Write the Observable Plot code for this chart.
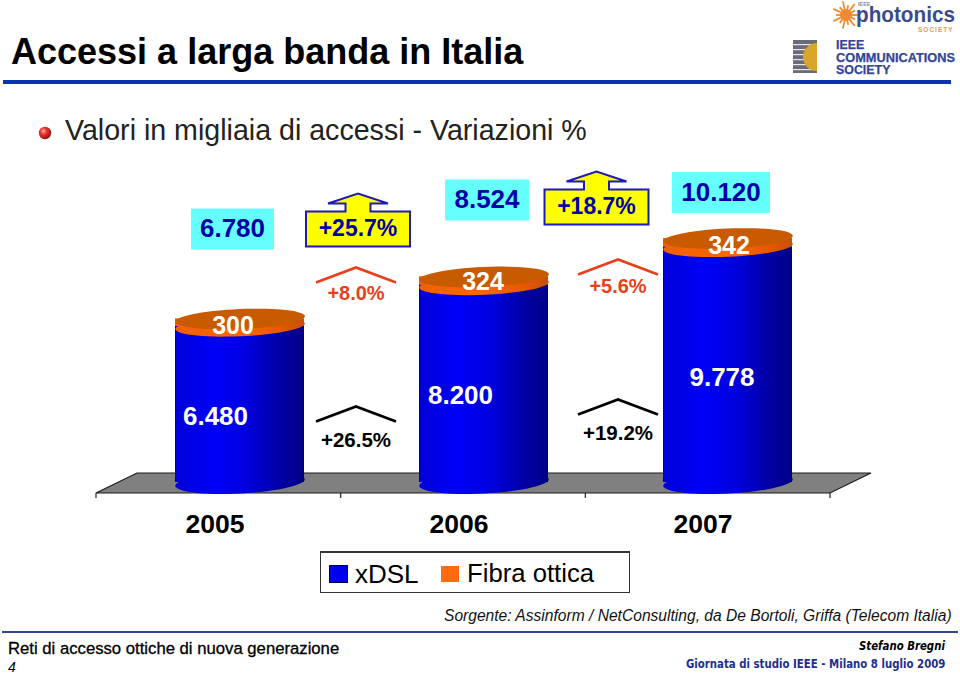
<!DOCTYPE html>
<html><head><meta charset="utf-8">
<script src="https://cdn.jsdelivr.net/npm/d3@7"></script>
<script src="https://cdn.jsdelivr.net/npm/@observablehq/plot@0.6"></script>
<style>
html,body{margin:0;padding:0;background:#fff;}
#page{position:relative;width:960px;height:674px;overflow:hidden;font-family:"Liberation Sans",Arial,sans-serif;color:#000;}
#page .t{position:absolute;white-space:nowrap;line-height:1;}
#chart{position:absolute;left:0;top:160px;}
</style></head><body>
<div id="page">
<div class="t" style="left:11px;top:34px;font-size:36px;font-weight:bold;">Accessi a larga banda in Italia</div>
<div style="position:absolute;left:3px;top:80px;width:948px;height:4px;background:#0a33b0;"></div>
<svg style="position:absolute;left:38px;top:126px" width="14" height="14"><defs><radialGradient id="ball" cx=".38" cy=".35" r=".7"><stop offset="0" stop-color="#ffb0a0"/><stop offset=".4" stop-color="#e8302a"/><stop offset="1" stop-color="#8a0a0a"/></radialGradient></defs><circle cx="7" cy="7" r="6.2" fill="url(#ball)"/></svg>
<div class="t" style="left:65px;top:116px;font-size:28.6px;color:#222;">Valori in migliaia di accessi - Variazioni %</div>

<svg style="position:absolute;left:780px;top:0" width="180" height="80">
  <g id="sun" transform="translate(66,15)"></g>
  <text x="76" y="22" font-family="Liberation Sans" font-weight="bold" font-size="22" fill="#3b4a8f" textLength="99" lengthAdjust="spacingAndGlyphs">photonics</text>
  <text x="138" y="32" font-family="Liberation Sans" font-weight="bold" font-size="6.5" letter-spacing="1" fill="#d89a60">SOCIETY</text>
  <text x="78" y="6" font-family="Liberation Sans" font-weight="bold" font-size="5.5" fill="#8a8a90">IEEE</text>
  <rect x="13" y="40" width="24" height="33" fill="#6a6a78"/>
  <g fill="#e8e8e8"><rect x="13" y="44" width="24" height="1.2"/><rect x="13" y="49" width="24" height="1.2"/><rect x="13" y="54" width="24" height="1.2"/><rect x="13" y="59" width="24" height="1.2"/><rect x="13" y="64" width="24" height="1.2"/><rect x="13" y="69" width="24" height="1.2"/></g>
  <path d="M37,43 A14,14 0 0 0 37,71 Z" fill="#d9a52a"/>
  <g font-family="Liberation Sans" font-weight="bold" fill="#33449a" font-size="12.4" stroke="#33449a" stroke-width=".25">
    <text x="56" y="49">IEEE</text>
    <text x="56" y="61.5" textLength="119" lengthAdjust="spacingAndGlyphs">COMMUNICATIONS</text>
    <text x="56" y="74">SOCIETY</text>
  </g>
</svg>

<div id="chart"></div>

<div style="position:absolute;left:320px;top:551px;width:308px;height:39px;border:1px solid #333;border-top-width:2px;"></div>
<div style="position:absolute;left:329px;top:565px;width:17px;height:16px;background:#0000f0;border:1px solid #000040;"></div>
<div class="t" style="left:355px;top:561px;font-size:26px;">xDSL</div>
<div style="position:absolute;left:441px;top:566px;width:18px;height:16px;background:#ff6a10;"></div>
<div class="t" style="left:467px;top:561px;font-size:25.7px;">Fibra ottica</div>

<div class="t" style="left:444px;top:608px;font-size:15.6px;font-style:italic;color:#111;">Sorgente: Assinform / NetConsulting, da De Bortoli, Griffa (Telecom Italia)</div>
<div style="position:absolute;left:2px;top:631px;width:956px;height:2px;background:#2b4a8c;"></div>
<div class="t" style="left:8px;top:641px;font-size:16.7px;-webkit-text-stroke:.3px #000;">Reti di accesso ottiche di nuova generazione</div>
<div class="t" style="left:8px;top:660px;font-size:14px;font-style:italic;">4</div>
<div class="t" style="right:15px;top:640px;font-size:12.5px;font-weight:bold;font-style:italic;font-family:'DejaVu Sans Condensed','DejaVu Sans';transform:scaleX(.905);transform-origin:right;">Stefano Bregni</div>
<div class="t" style="right:15px;top:658px;font-size:12.5px;font-weight:bold;color:#1e2f8f;font-family:'DejaVu Sans Condensed','DejaVu Sans';transform:scaleX(.906);transform-origin:right;">Giornata di studio IEEE - Milano 8 luglio 2009</div>
</div>

<script>
// ---- data ----
const years = ["2005", "2006", "2007"];
const xdsl = [6480, 8200, 9778];
const fibra = [300, 324, 342];
const totals = [6780, 8524, 10120];
const totalChange = ["+25.7%", "+18.7%"];
const fibraChange = ["+8.0%", "+5.6%"];
const xdslChange = ["+26.5%", "+19.2%"];
const seriesNames = ["xDSL", "Fibra ottica"];

const stacked = [
  ...years.map((year, i) => ({year, series: seriesNames[0], value: xdsl[i]})),
  ...years.map((year, i) => ({year, series: seriesNames[1], value: fibra[i]}))
];
const tops = years.map((year, i) => ({year, xdsl: xdsl[i], total: totals[i]}));

// ---- helpers ----
const fmt = d3.formatLocale({thousands: ".", grouping: [3], decimal: ",", currency: ["", ""]}).format(",");
const font = "Liberation Sans";
const ellipse = (rx, ry, tilt) => ({draw(c) {
  const a = tilt * Math.PI / 180, n = 60;
  for (let k = 0; k <= n; ++k) {
    const t = k / n * 2 * Math.PI, px = rx * Math.cos(t), py = ry * Math.sin(t);
    const X = px * Math.cos(a) - py * Math.sin(a), Y = px * Math.sin(a) + py * Math.cos(a);
    k ? c.lineTo(X, Y) : c.moveTo(X, Y);
  }
  c.closePath();
}});
const box = (w, h) => ({draw(c) {
  c.moveTo(-w / 2, -h / 2); c.lineTo(w / 2, -h / 2); c.lineTo(w / 2, h / 2); c.lineTo(-w / 2, h / 2); c.closePath();
}});
const chevron = {draw(c) { c.moveTo(-40, 15); c.lineTo(0, 0); c.lineTo(40, 15); }};
const upBox = {draw(c) {
  [[-52,17.5],[-52,-17.5],[-12.5,-17.5],[-12.5,-25.5],[-30,-25.5],[0,-35.5],[30,-25.5],[12.5,-25.5],[12.5,-17.5],[52,-17.5],[52,17.5]]
    .forEach(([x, y], k) => k ? c.lineTo(x, y) : c.moveTo(x, y));
  c.closePath();
}};

const defs = () => {
  const d = d3.create("svg:defs");
  const grad = (id, stops) => {
    const g = d.append("linearGradient").attr("id", id);
    stops.forEach(([o, col]) => g.append("stop").attr("offset", o).attr("stop-color", col));
  };
  grad("cylBlue", [[0,"#000060"],[.008,"#0000d8"],[.3,"#0000f8"],[.55,"#0000e0"],[.8,"#0000a8"],[.99,"#000088"],[1,"#000050"]]);
  grad("cylOrange", [[0,"#f06000"],[.5,"#ff6600"],[.8,"#e85800"],[1,"#c85000"]]);
  return d.node();
};

const floor = (index, scales, values, dims) => {
  const l = dims.marginLeft - 21, r = dims.width - dims.marginRight - 21, y0 = scales.y(0), front = y0 + 11, back = y0 - 9, depth = 41;
  const g = d3.create("svg:g");
  g.append("path").attr("d", `M${l},${front}L${r},${front}L${r + depth},${back}L${l + depth},${back}Z`)
    .attr("fill", "#808080").attr("stroke", "#1a1a1a").attr("stroke-width", 1.2);
  d3.range(4).forEach(i => {
    const x = l + i * (r - l) / 3;
    g.append("line").attr("x1", x).attr("x2", x).attr("y1", front).attr("y2", front + 5).attr("stroke", "#222").attr("stroke-width", 1.2);
  });
  return g.node();
};

// one-off annotation anchored on a category at value 0, offset in pixels
const anchorAt = (year, dx, dy) => ({x: () => year, y: () => 0, dx, dy});
const note = (text, year, dx, dy, fill, fontSize, fontWeight = "normal") =>
  Plot.text([text], {...anchorAt(year, dx, dy), text: d => d, fill, fontSize, fontWeight, fontFamily: font, textAnchor: "middle", lineAnchor: "middle"});
const shape = (symbol, year, dx, dy, fill, stroke, strokeWidth = 0) =>
  Plot.dot([0], {...anchorAt(year, dx, dy), symbol, r: 10, fill, stroke, strokeWidth});

const blueText = "#0000a8", redText = "#e8401c", black = "#000", white = "#fff", cyan = "#66ffff";
const base = 482;  // pixel row of value 0 on the page

const marks = [
  defs,
  floor,
  Plot.dot(tops, {x: "year", y: () => 0, symbol: ellipse(64.8, 11, -3), r: 10, fill: "url(#cylBlue)"}),
  Plot.barY(stacked, {x: "year", y: "value", fill: "series"}),
  Plot.dot(tops, {x: "year", y: "xdsl", symbol: ellipse(64.8, 10, -2.5), r: 10, fill: "url(#cylOrange)"}),
  Plot.barY(stacked.filter(d => d.series === seriesNames[1]).map((d, i) => ({...d, y1: xdsl[i], y2: totals[i]})), {x: "year", y1: "y1", y2: "y2", fill: "url(#cylOrange)"}),
  Plot.dot(tops, {x: "year", y: "total", symbol: ellipse(64.8, 10, -2.5), r: 10, fill: "#c85a00"}),
  Plot.axisX({anchor: "bottom", tickSize: 0, tickPadding: 32, fontSize: 26.5, fontFamily: font, fontWeight: "bold", fill: "#000", dx: -25, label: null})
];

// xDSL and fibre values on the cylinders
[[-24.5, 416], [-23.5, 395], [-6, 377]].forEach(([dx, py], i) =>
  marks.push(note(fmt(xdsl[i]), years[i], dx, py - base, white, 26, "bold")));
[[-7, 325], [-1, 281.5], [1, 245.5]].forEach(([dx, py], i) =>
  marks.push(note(fmt(fibra[i]), years[i], dx, py - base, white, 25, "bold")));

// totals in cyan boxes
[[-7.5, 228.5, 83], [3, 199.5, 84], [-7, 192, 98]].forEach(([dx, py, w], i) => {
  marks.push(shape(box(w, 41), years[i], dx, py - base, cyan));
  marks.push(note(fmt(totals[i]), years[i], dx, py - base, blueText, 26, "bold"));
});

// year-on-year changes
[[118, 228.5], [112.5, 206.5]].forEach(([dx, py], i) => {
  marks.push(shape(upBox, years[i], dx, py - base, "#ffff00", "#1c1cb4", 2));
  marks.push(note(totalChange[i], years[i], dx, py - base, blueText, 23, "bold"));
});
[[116, 267, 293], [134, 259, 286]].forEach(([dx, apex, py], i) => {
  marks.push(shape(chevron, years[i], dx, apex - base, "none", redText, 2.6));
  marks.push(note(fibraChange[i], years[i], dx, py - base, redText, 20, "bold"));
});
[[116, 406, 440], [134, 399, 433]].forEach(([dx, apex, py], i) => {
  marks.push(shape(chevron, years[i], dx, apex - base, "none", black, 2.8));
  marks.push(note(xdslChange[i], years[i], dx, py - base, black, 20.5, "bold"));
});

const plot = Plot.plot({
  width: 960, height: 390,
  marginLeft: 117, marginRight: 109, marginTop: 78, marginBottom: 68,
  style: {fontFamily: font, background: "transparent", overflow: "visible"},
  x: {domain: years, paddingInner: 0.47, paddingOuter: 0.235, label: null},
  y: {domain: [0, 10120], axis: null},
  color: {domain: seriesNames, range: ["url(#cylBlue)", "url(#cylOrange)"]},
  marks
});
document.getElementById("chart").append(plot);

// sun emblem of the society logo
const sun = d3.select("#sun");
d3.range(14).forEach(i => {
  const a = i / 14 * 2 * Math.PI, big = i % 2 === 0;
  sun.append("line").attr("x1", 4 * Math.cos(a)).attr("y1", 4 * Math.sin(a))
    .attr("x2", (big ? 14 : 10) * Math.cos(a)).attr("y2", (big ? 14 : 10) * Math.sin(a))
    .attr("stroke", "#f08a30").attr("stroke-width", 1.8);
});
sun.append("circle").attr("r", 6).attr("fill", "#f08a30");
</script>
</body></html>
